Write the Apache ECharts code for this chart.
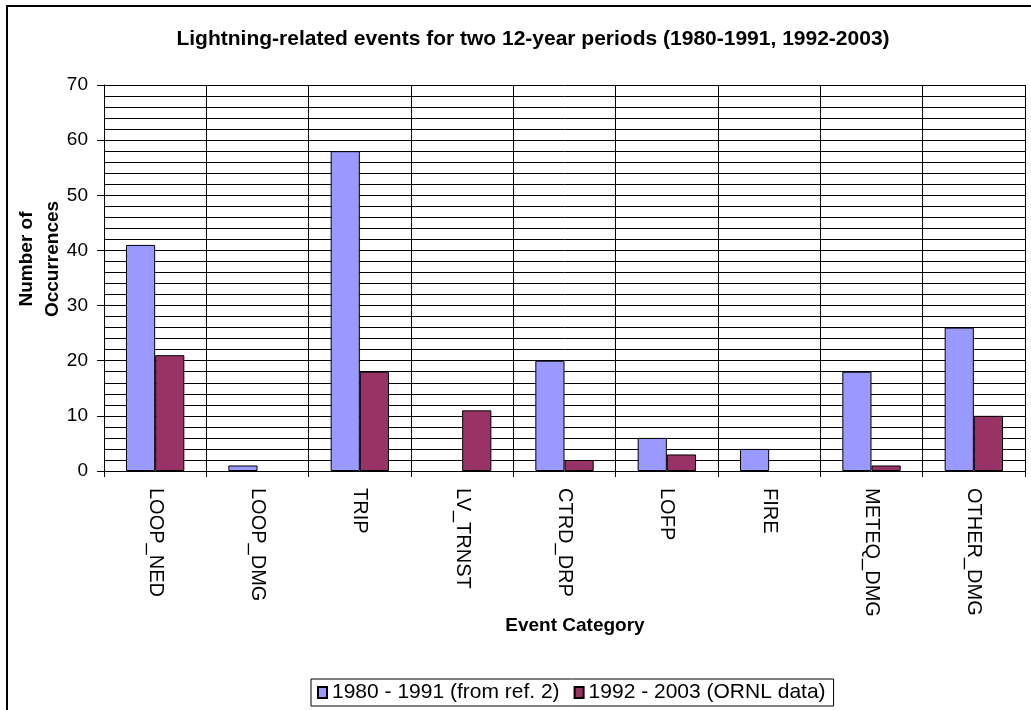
<!DOCTYPE html>
<html><head><meta charset="utf-8">
<script src="https://cdn.jsdelivr.net/npm/echarts@6/dist/echarts.min.js"></script>
<style>html,body{margin:0;padding:0;background:#fff}#c{width:1031px;height:710px}</style>
</head><body><div id="c"></div>
<script>
const categories = ['LOOP_NED','LOOP_DMG','TRIP','LV_TRNST','CTRD_DRP','LOFP','FIRE','METEQ_DMG','OTHER_DMG'];
const series1980 = [41, 1, 58, 0, 20, 6, 4, 18, 26];
const series1992 = [21, 0, 18, 11, 2, 3, 0, 1, 10];
const seriesNames = ['1980 - 1991 (from ref. 2)', '1992 - 2003 (ORNL data)'];
const titleText = 'Lightning-related events for two 12-year periods (1980-1991, 1992-2003)';
const yTitle = 'Number of\nOccurrences';
const xTitle = 'Event Category';

const FONT = '"Liberation Sans", Arial, sans-serif';
const hideZero = arr => arr.map(v => (v === 0 ? null : v));
const chart = echarts.init(document.getElementById('c'), null, {renderer: 'canvas'});
chart.setOption({
  animation: false,
  backgroundColor: '#fff',
  grid: {left: 104, right: 6, top: 85, bottom: 239, containLabel: false},
  graphic: [
    {type: 'rect', shape: {x: 7, y: 6, width: 1100, height: 800}, style: {fill: 'none', stroke: '#000', lineWidth: 2}, silent: true, z: -10},
    {type: 'text', x: 533, y: 39, style: {text: titleText, font: 'bold 21px ' + FONT, fill: '#000', align: 'center', verticalAlign: 'middle'}},
    {type: 'text', x: 40, y: 259, rotation: Math.PI / 2, style: {text: yTitle, font: 'bold 19px ' + FONT, fill: '#000', align: 'center', verticalAlign: 'middle', lineHeight: 26}},
    {type: 'text', x: 575, y: 626, style: {text: xTitle, font: 'bold 19px ' + FONT, fill: '#000', align: 'center', verticalAlign: 'middle'}}
  ],
  legend: {
    data: seriesNames,
    left: 311, top: 679,
    orient: 'horizontal',
    itemWidth: 9, itemHeight: 11, itemGap: 14,
    padding: [3, 8, 3, 6],
    borderColor: '#000', borderWidth: 1,
    textStyle: {fontFamily: FONT, fontSize: 21, color: '#000', padding: [0, 0, 0, 0]},
    icon: 'rect'
  },
  xAxis: {
    type: 'category',
    data: categories,
    axisLine: {lineStyle: {color: '#000', width: 1}},
    axisTick: {show: true, length: 6, lineStyle: {color: '#000'}},
    axisLabel: {rotate: -90, fontFamily: FONT, fontSize: 20, color: '#000', margin: 17, interval: 0},
    splitLine: {show: true, lineStyle: {color: '#000', width: 1}}
  },
  yAxis: {
    type: 'value',
    min: 0, max: 70, interval: 10,
    axisLine: {show: true, lineStyle: {color: '#000'}},
    axisTick: {show: true, length: 7, lineStyle: {color: '#000'}},
    axisLabel: {fontFamily: FONT, fontSize: 19, color: '#000', margin: 16},
    splitLine: {show: true, lineStyle: {color: '#000', width: 1}},
    minorTick: {show: false, splitNumber: 5},
    minorSplitLine: {show: true, lineStyle: {color: '#000', width: 1}}
  },
  series: [
    {name: seriesNames[0], type: 'bar', data: hideZero(series1980), barGap: '0%', barCategoryGap: '43%',
     itemStyle: {color: '#9999FF', borderColor: '#000', borderWidth: 1}},
    {name: seriesNames[1], type: 'bar', data: hideZero(series1992), barGap: '0%', barCategoryGap: '43%',
     itemStyle: {color: '#993366', borderColor: '#000', borderWidth: 1}}
  ]
});
</script></body></html>
